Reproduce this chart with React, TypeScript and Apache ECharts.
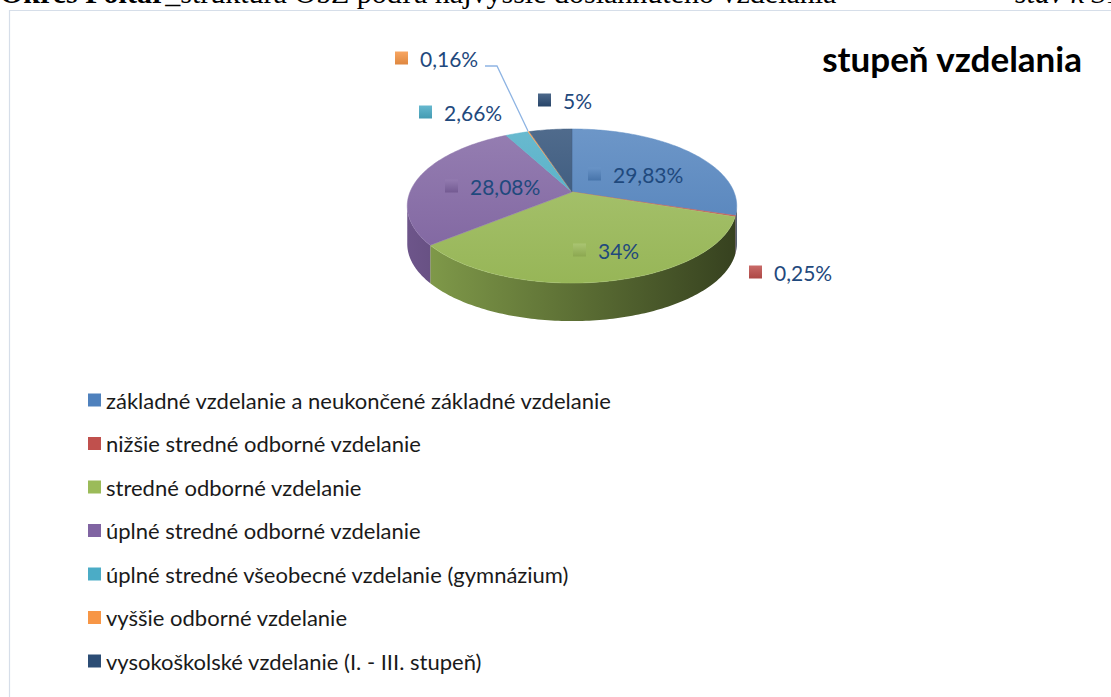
import React, { useEffect, useRef } from "react";
import * as echarts from "echarts";

// ---- data ----
const categories = [
  "základné vzdelanie a neukončené základné vzdelanie",
  "nižšie stredné odborné vzdelanie",
  "stredné odborné vzdelanie",
  "úplné stredné odborné vzdelanie",
  "úplné stredné všeobecné vzdelanie (gymnázium)",
  "vyššie odborné vzdelanie",
  "vysokoškolské vzdelanie (I. - III. stupeň)",
];
const values = [29.83, 0.25, 34, 28.08, 2.66, 0.16, 5];
const colors = ["#4F81BD", "#C0504D", "#9BBB59", "#8064A2", "#4BACC6", "#F79646", "#2C4D75"];
const titleText = "stupeň vzdelania";
const headerBold = "Okres Poltár";
const headerRest = "_štruktúra ObZ podľa najvyššie dosiahnutého vzdelania";
const headerRight = "stav k 31.";

// ---- layout (not data) ----
const CX = 572, CY = 192, W = 162, H = 74.5, P = 0.1818, DEPTH = 38;
// label square left x, center y
const labelBoxes: number[][] = [
  [588, 174], [749, 272], [573, 250], [445, 186], [419, 112], [395, 58], [538, 100],
];
const leader: number[][] = [[485, 66], [497, 66], [528, 131]];

function hexToRgb(h: string) {
  const n = parseInt(h.slice(1), 16);
  return [(n >> 16) & 255, (n >> 8) & 255, n & 255];
}
function shade(h: string, f: number) {
  const [r, g, b] = hexToRgb(h);
  const c = (v: number) => Math.max(0, Math.min(255, Math.round(v)));
  if (f >= 1) {
    const t = f - 1;
    return `rgb(${c(r + (255 - r) * t)},${c(g + (255 - g) * t)},${c(b + (255 - b) * t)})`;
  }
  return `rgb(${c(r * f)},${c(g * f)},${c(b * f)})`;
}
function fmt(v: number) {
  return String(v).replace(".", ",") + "%";
}

function proj(t: number, dz: number) {
  const a = Math.sin(t), b = Math.cos(t);
  const d = 1 + P * b;
  return [CX + (W * a) / d, CY - (H * b) / d + dz];
}
function arc(t0: number, t1: number, dz: number) {
  const n = Math.max(2, Math.ceil((t1 - t0) / (Math.PI / 180)) + 1);
  const pts: number[][] = [];
  for (let k = 0; k < n; k++) pts.push(proj(t0 + ((t1 - t0) * k) / (n - 1), dz));
  return pts;
}

export default function App() {
  const ref = useRef<HTMLDivElement>(null);
  useEffect(() => {
    if (!ref.current) return;
    const chart = echarts.init(ref.current, undefined, { renderer: "svg" });
    const total = values.reduce((s, v) => s + v, 0);
    const v0 = Math.acos(-P), v1 = 2 * Math.PI - v0;

    const series = categories.map((name, i) => ({
      type: "custom",
      name,
      coordinateSystem: "none",
      silent: true,
      itemStyle: { color: colors[i] },
      data: [[values[i]]],
      renderItem: () => {
        const before = values.slice(0, i).reduce((s, v) => s + v, 0);
        const start = (before / total) * 2 * Math.PI;
        const end = ((before + values[i]) / total) * 2 * Math.PI;
        const children: any[] = [];
        const s0 = Math.max(start, v0), s1 = Math.min(end, v1);
        if (s1 > s0) {
          children.push({
            type: "polygon",
            shape: { points: [...arc(s0, s1, 0), ...arc(s0, s1, DEPTH).reverse()] },
            style: {
              fill: new echarts.graphic.LinearGradient(
                407, 0, 737, 0,
                [
                  { offset: 0, color: shade(colors[i], 0.85) },
                  { offset: 0.5, color: shade(colors[i], 0.6) },
                  { offset: 1, color: shade(colors[i], 0.35) },
                ],
                true
              ),
            },
          });
        }
        children.push({
          type: "polygon",
          shape: { points: [[CX, CY], ...arc(start, end, 0)] },
          style: {
            fill: new echarts.graphic.LinearGradient(
              0, 118, 0, 290,
              [
                { offset: 0, color: shade(colors[i], 1.18) },
                { offset: 1, color: shade(colors[i], 0.97) },
              ],
              true
            ),
            stroke: shade(colors[i], 1.1),
            lineWidth: 0.5,
          },
        });
        const [lx, ly] = labelBoxes[i];
        if (i === 5) {
          children.push({
            type: "polyline",
            shape: { points: leader },
            style: { stroke: "#8EB4E3", lineWidth: 1.3, fill: null },
          });
        }
        children.push({
          type: "rect",
          shape: { x: lx, y: ly - 6.5, width: 13, height: 13 },
          style: {
            fill: new echarts.graphic.LinearGradient(0, 0, 0, 1, [
              { offset: 0, color: shade(colors[i], 1.15) },
              { offset: 1, color: shade(colors[i], 0.9) },
            ]),
          },
        });
        children.push({
          type: "text",
          x: lx + 25,
          y: ly,
          style: {
            text: fmt(values[i]),
            fill: "#1F497D",
            fontSize: 21,
            fontFamily: "Lato",
            verticalAlign: "middle",
            align: "left",
          },
        });
        return { type: "group", children };
      },
    }));

    chart.setOption({
      animation: false,
      color: colors,
      legend: {
        orient: "vertical",
        left: 83,
        top: 384,
        itemWidth: 13,
        itemHeight: 13,
        itemGap: 21.5,
        icon: "rect",
        selectedMode: false,
        textStyle: { fontSize: 22, fontFamily: "Lato", color: "#1a1a1a", lineHeight: 22 },
        data: categories,
      },
      graphic: [
        {
          type: "polyline",
          shape: { points: [[9.5, 697], [9.5, 10.5], [1111, 10.5]] },
          style: { stroke: "#D6DEE9", lineWidth: 1.2, fill: null },
          silent: true,
        },
        {
          type: "text",
          x: 0,
          y: -7.5,
          style: {
            text: `{b|${headerBold}}{r|${headerRest}}`,
            fontFamily: "Liberation Serif",
            fontSize: 30,
            fill: "#000",
            verticalAlign: "middle",
            rich: {
              b: { fontWeight: "bold", fontFamily: "Liberation Serif", fontSize: 30 },
              r: { fontFamily: "Liberation Serif", fontSize: 30 },
            },
          },
        },
        {
          type: "text",
          x: 1015,
          y: -7.5,
          style: {
            text: headerRight,
            fontFamily: "Liberation Serif",
            fontStyle: "italic",
            fontSize: 30,
            fill: "#000",
            verticalAlign: "middle",
          },
        },
        {
          type: "text",
          x: 1082,
          y: 58,
          style: {
            text: titleText,
            fontFamily: "Lato",
            fontWeight: "bold",
            fontSize: 35,
            fill: "#000",
            align: "right",
            verticalAlign: "middle",
          },
        },
      ],
      series,
    });
    return () => chart.dispose();
  }, []);
  return (
    <div
      ref={ref}
      style={{ position: "absolute", left: 0, top: 0, width: 1111, height: 697, background: "#fff" }}
    />
  );
}
